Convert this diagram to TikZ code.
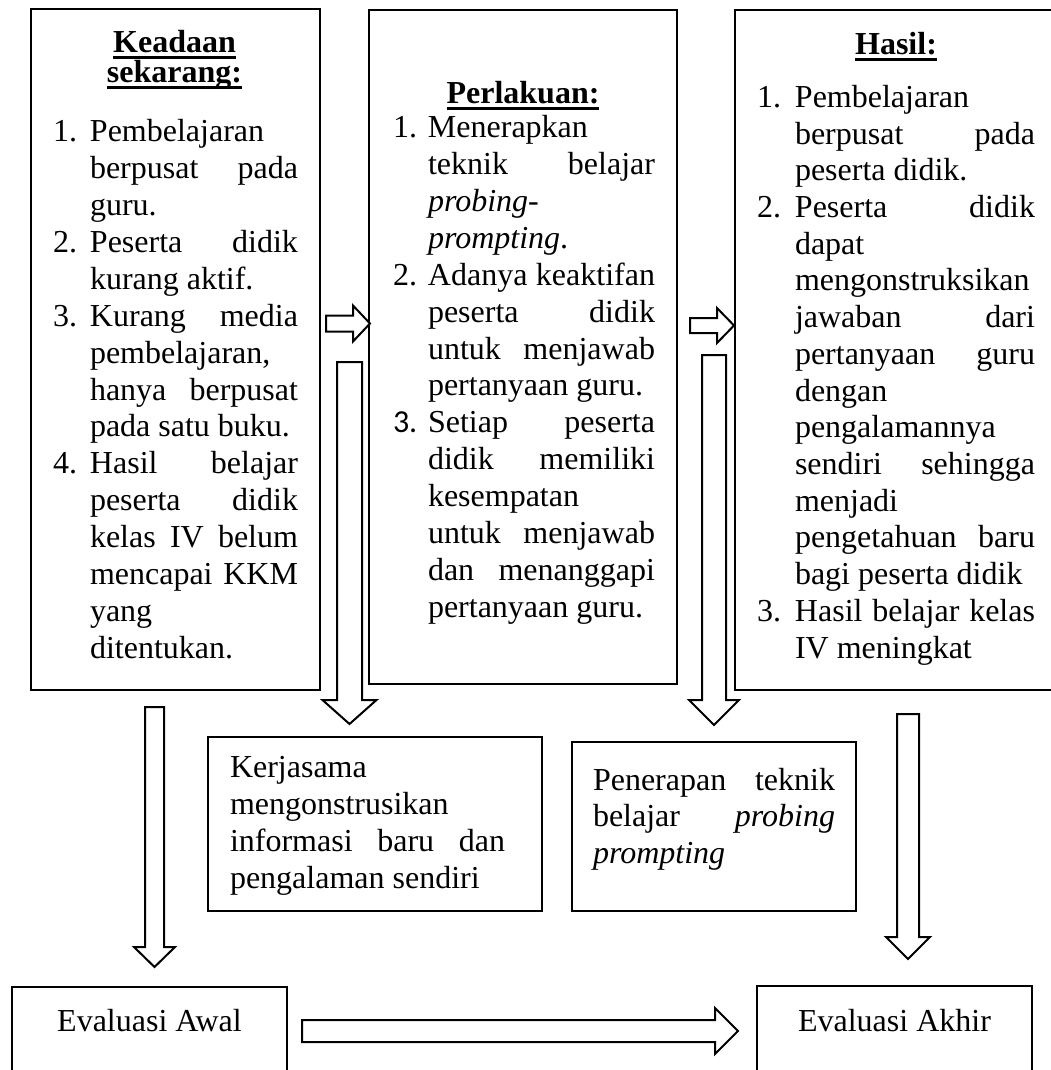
\documentclass[tikz,border=0pt]{standalone}
\usepackage{fontspec}
\setmainfont{Liberation Serif}
\newfontfamily\calibri{Carlito}
\newcommand\hul[1]{\setbox0\hbox{#1}\rlap{\vrule height -3.5pt depth 6.5pt width \wd0}\box0}
\newcommand\itm[3]{\par\hangindent=#1\hangafter=1\noindent\makebox[#1][l]{#2}#3\par}
\newcommand\txtblock[3]{\parbox[t]{#1}{\fontsize{32}{#2}\selectfont\tolerance=10000\hbadness=10000\hfuzz=60pt\hyphenpenalty=10000\exhyphenpenalty=10000\parskip=0pt\parindent=0pt #3}}
% down block arrow: cx, shaft half, top, head top, head half, tip
\newcommand\darr[6]{\draw[barrow] ({#1-#2},#3) -- ({#1+#2},#3) -- ({#1+#2},#4) -- ({#1+#5},#4) -- (#1,#6) -- ({#1-#5},#4) -- ({#1-#2},#4) -- cycle;}
% right block arrow: cy, shaft half, left, head base, head half, tip
\newcommand\rarr[6]{\draw[barrow] (#3,{#1-#2}) -- (#4,{#1-#2}) -- (#4,{#1-#5}) -- (#6,#1) -- (#4,{#1+#5}) -- (#4,{#1+#2}) -- (#3,{#1+#2}) -- cycle;}
\begin{document}
\begin{tikzpicture}[x=1pt,y=-1pt,
  box/.style={draw, line width=2pt, anchor=north west, inner sep=0pt, outer sep=0pt},
  txt/.style={inner sep=0pt, outer sep=0pt, anchor=base west},
  head/.style={inner sep=0pt, outer sep=0pt, anchor=base, font=\fontsize{32}{32}\selectfont\bfseries},
  ctxt/.style={inner sep=0pt, outer sep=0pt, anchor=base, font=\fontsize{32}{32}\selectfont},
  barrow/.style={draw, line width=2pt, fill=white, line join=miter}]
\useasboundingbox (0,0) rectangle (1051,1070);
\clip (0,0) rectangle (1051,1070);
\fill[white] (0,0) rectangle (1051,1070);

% boxes
\node[box, minimum width=289pt, minimum height=681pt] (L) at (31,9) {};
\node[box, minimum width=308pt, minimum height=674pt] (M) at (369,10) {};
\node[box, minimum width=322pt, minimum height=680pt] (R) at (735,10) {};
\node[box, minimum width=334pt, minimum height=174pt] (K) at (208,737) {};
\node[box, minimum width=284pt, minimum height=169pt] (P) at (572,742) {};
\node[box, minimum width=275pt, minimum height=103pt] (EA) at (12,987) {};
\node[box, minimum width=275pt, minimum height=104pt] (EK) at (757,986) {};

% headings
\node[head] (hL1) at (174.5,53) {\hul{Keadaan}};
\node[head] (hL2) at (174.5,83) {\hul{sekarang:}};
\node[head] (hM) at (523,103.5) {\hul{Perlakuan:}};
\node[head] (hR) at (896,55) {\hul{Hasil:}};

% lists
\node[txt] (tL) at (53,142) {\txtblock{245pt}{36.86}{%
\itm{37pt}{1.}{Pembelajaran\newline berpusat~pada\linebreak guru.}
\itm{37pt}{2.}{Peserta~didik\linebreak kurang~aktif.}
\itm{37pt}{3.}{Kurang~media\linebreak pembelajaran,\newline hanya~berpusat\linebreak pada~satu~buku.}
\itm{37pt}{4.}{Hasil~belajar\linebreak peserta~didik\linebreak kelas~IV~belum\linebreak mencapai~KKM\linebreak yang\newline ditentukan.}}};

\node[txt] (tM) at (393,138) {\txtblock{262pt}{36.85}{%
\itm{35pt}{1.}{Menerapkan\newline teknik~belajar\linebreak \textit{probing-}\newline \textit{prompting}.}
\itm{35pt}{2.}{Adanya~keaktifan\linebreak peserta~didik\linebreak untuk~menjawab\linebreak pertanyaan~guru.}
\itm{35pt}{{\calibri 3.}}{Setiap~peserta\linebreak didik~memiliki\linebreak kesempatan\newline untuk~menjawab\linebreak dan~menanggapi\linebreak pertanyaan~guru.}}};

\node[txt] (tR) at (757,107.5) {\txtblock{278pt}{36.7}{%
\itm{38pt}{1.}{Pembelajaran\newline berpusat~pada\linebreak peserta~didik.}
\itm{38pt}{2.}{Peserta~didik\linebreak dapat\newline mengonstruksikan\newline jawaban~dari\linebreak pertanyaan~guru\linebreak dengan\newline pengalamannya\newline sendiri~sehingga\linebreak menjadi\newline pengetahuan~baru\linebreak bagi~peserta~didik}
\itm{38pt}{3.}{Hasil~belajar~kelas\linebreak IV~meningkat}}};

\node[txt] (tK) at (230,777) {\txtblock{275pt}{37}{%
Kerjasama\newline mengonstrusikan\newline informasi~baru~dan\linebreak pengalaman~sendiri}};

\node[txt] (tP) at (593,790) {\txtblock{242pt}{36.5}{%
Penerapan~teknik\linebreak belajar~\textit{probing}\linebreak \textit{prompting}}};

\node[ctxt] (tEA) at (149.5,1031) {Evaluasi Awal};
\node[ctxt] (tEK) at (894.5,1031) {Evaluasi Akhir};

% block arrows
\rarr{323.5}{8}{326}{353}{18}{370}
\rarr{325.5}{7.5}{690}{717}{17.5}{734}
\darr{349.5}{12.5}{362}{700}{27}{724}
\darr{714}{12}{355}{700}{25}{725}
\darr{154.5}{9.5}{707}{947}{20.5}{967}
\darr{908}{11}{714}{937}{22}{959}
\rarr{1031}{11}{302}{715}{23}{738}
\end{tikzpicture}
\end{document}
